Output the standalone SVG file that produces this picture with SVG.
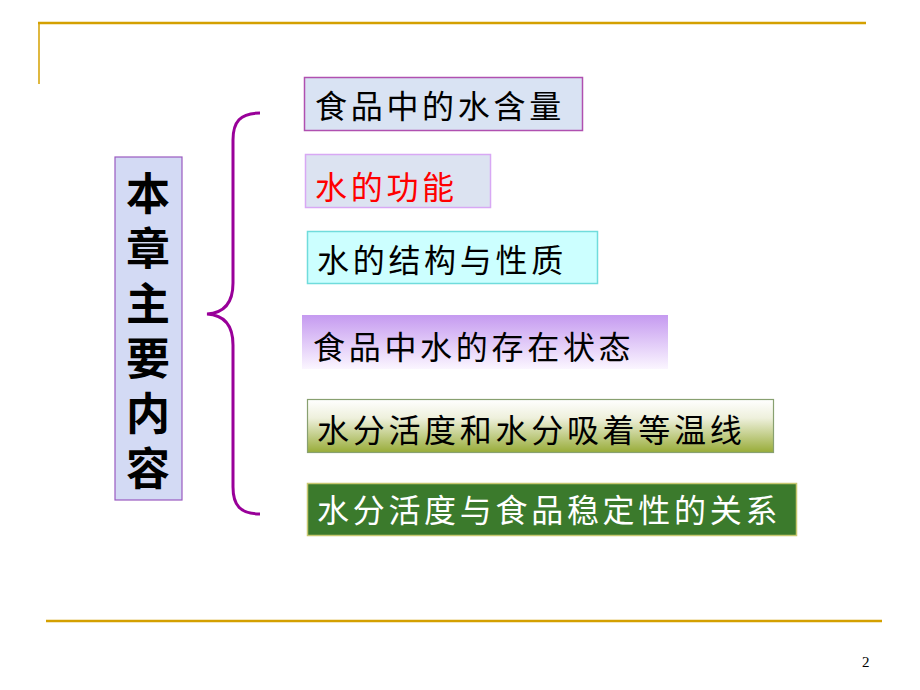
<svg xmlns="http://www.w3.org/2000/svg" width="920" height="690" viewBox="0 0 920 690">
<defs>
<style>
.t{font-family:"Noto Sans CJK SC","Noto Sans CJK TC",sans-serif;font-size:32px;letter-spacing:3.7px;fill:#000}
.v{font-family:"Noto Sans CJK SC",sans-serif;font-size:44px;font-weight:bold;fill:#000;writing-mode:vertical-rl;letter-spacing:11px}
.rule{stroke:#d4a000;fill:none}
</style>
<linearGradient id="g4" x1="0" y1="0" x2="0" y2="1">
<stop offset="0" stop-color="#c59af0"/>
<stop offset="1" stop-color="#fbf6ff"/>
</linearGradient>
<linearGradient id="g5" x1="0" y1="0" x2="0" y2="1">
<stop offset="0" stop-color="#ffffff"/>
<stop offset="0.35" stop-color="#eef0dc"/>
<stop offset="1" stop-color="#98ac38"/>
</linearGradient>
</defs>
<rect width="920" height="690" fill="#fff"/>
<g id="frame">
<line class="rule" x1="38" y1="23" x2="866" y2="23" stroke-width="2.5"/>
<line class="rule" x1="39" y1="23" x2="39" y2="84" stroke-width="1.5"/>
<line class="rule" x1="46" y1="621" x2="882" y2="621" stroke-width="2.5"/>
<text x="862" y="667" font-family="Liberation Serif, serif" font-size="15" fill="#000">2</text>
</g>
<g id="title">
<rect x="115" y="157" width="67" height="343" fill="#d3daf4" stroke="#9a5ac0" stroke-width="1.2"/>
<text class="v" x="148" y="171">本章主要内容</text>
</g>
<g id="connectors">
<path d="M260 113 C240 113 233 122 233 140 L233 283 C233 303 224 313 207 314 C224 315 233 325 233 345 L233 487 C233 505 240 514 260 514" fill="none" stroke="#990099" stroke-width="3"/>
</g>
<g id="n1">
<rect x="304.5" y="77.5" width="278" height="53" fill="#d9e3f3" stroke="#b050b0" stroke-width="1.5"/>
<text class="t" x="315" y="118">食品中的水含量</text>
</g>
<g id="n2">
<rect x="305.5" y="154.5" width="185" height="53" fill="#dce3f1" stroke="#d8a8f4" stroke-width="1.5"/>
<text class="t" x="315" y="199" style="fill:#ff0000">水的功能</text>
</g>
<g id="n3">
<rect x="307.5" y="231.5" width="290" height="52" fill="#ccffff" stroke="#70dcdc" stroke-width="1.5"/>
<text class="t" x="317" y="272">水的结构与性质</text>
</g>
<g id="n4">
<rect x="302" y="315" width="366" height="54" fill="url(#g4)"/>
<text class="t" x="313" y="359">食品中水的存在状态</text>
</g>
<g id="n5">
<rect x="307.5" y="399.5" width="466" height="53" fill="url(#g5)" stroke="#88a070" stroke-width="1.2"/>
<text class="t" x="317" y="442">水分活度和水分吸着等温线</text>
</g>
<g id="n6">
<rect x="307.5" y="483.5" width="489" height="52" fill="#3b7a2c" stroke="#c8c870" stroke-width="1.5"/>
<text class="t" x="317" y="522" style="fill:#ffffff">水分活度与食品稳定性的关系</text>
</g>
</svg>
